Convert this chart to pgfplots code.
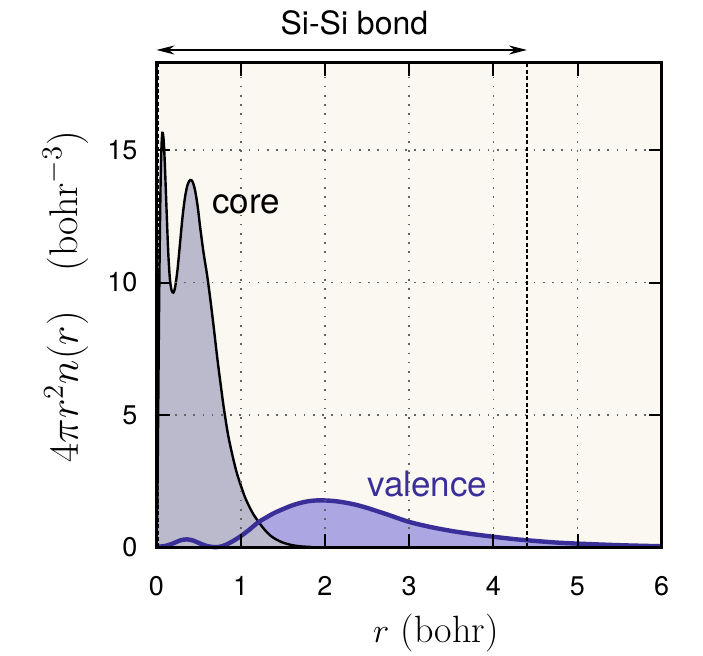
\documentclass[border=0pt]{standalone}
\usepackage{fontspec}
\usepackage{pgfplots}
\pgfplotsset{compat=1.18}
\usetikzlibrary{arrows.meta}
\newfontfamily\helv{TeX Gyre Heros}
\definecolor{bgc}{RGB}{250,248,240}
\definecolor{corefill}{RGB}{186,186,204}
\definecolor{valfill}{RGB}{172,166,226}
\definecolor{valline}{RGB}{58,46,152}
\definecolor{gridc}{RGB}{100,100,100}
\begin{document}
\begin{tikzpicture}
\begin{axis}[
 scale only axis, width=252.6pt, height=242.3pt,
 xmin=0,xmax=6,ymin=0,ymax=18.3,
 xtick={0,...,6}, ytick={0,5,10,15},
 tick align=inside, major tick length=6.5pt,
 tick style={line width=1pt, black},
 axis line style={line width=1.3pt},
 axis background/.style={fill=bgc},
 grid=major, major grid style={gridc, line width=0.8pt, dash pattern=on 0.8pt off 3.8pt},
 axis on top,
 clip=false,
 /pgf/number format/assume math mode=true,
 ticklabel style={font=\helv\fontsize{13.5}{16}\selectfont},
 xticklabel style={yshift=-11pt},
 yticklabel style={xshift=-6pt},
 xlabel={$r$ (bohr)}, ylabel={$4\pi r^2 n(r) \quad (\mathrm{bohr}^{-3})$},
 xlabel style={font=\fontsize{19}{22}\selectfont, at={(axis description cs:0.553,0)}, anchor=base, yshift=-47.5pt},
 ylabel style={font=\fontsize{20}{23}\selectfont, at={(axis description cs:-0.1554,0.5175)}, anchor=base},
]
\coordinate (SW) at (rel axis cs:0,0);
\coordinate (NE) at (rel axis cs:1,1);
\addplot[draw=none, fill=valfill, smooth] coordinates {
(0,0.02) (0.1,0.05) (0.2,0.15) (0.28,0.26) (0.36,0.30) (0.44,0.25) (0.52,0.14) (0.6,0.05) (0.68,0.01) (0.75,0.02) (0.82,0.09) (0.9,0.22) (1.0,0.42) (1.1,0.66) (1.21,0.95) (1.3,1.12) (1.4,1.3) (1.5,1.44) (1.6,1.57) (1.7,1.67) (1.8,1.74) (1.9,1.77) (2.0,1.77) (2.1,1.75) (2.2,1.71) (2.35,1.62) (2.5,1.49) (2.75,1.23) (3.0,0.96) (3.25,0.77) (3.5,0.62) (3.75,0.5) (4.0,0.4) (4.25,0.31) (4.5,0.24) (4.75,0.18) (5.0,0.14) (5.5,0.08) (6.0,0.04)
} \closedcycle;
\addplot[draw=none, fill=corefill, smooth] coordinates {
(0,0) (0.01,1.7) (0.02,5.1) (0.03,8.8) (0.04,11.8) (0.05,14.0) (0.06,15.2) (0.07,15.65) (0.08,15.55) (0.09,15.1) (0.10,14.4) (0.12,12.7) (0.14,11.1) (0.16,10.1) (0.18,9.7) (0.20,9.62) (0.22,9.8) (0.25,10.5) (0.28,11.5) (0.31,12.5) (0.34,13.25) (0.37,13.7) (0.40,13.87) (0.43,13.8) (0.46,13.45) (0.49,12.85) (0.52,12.05) (0.56,11.1) (0.60,10.3) (0.64,9.35) (0.68,8.3) (0.72,7.2) (0.76,6.2) (0.80,5.25) (0.85,4.25) (0.90,3.5) (0.95,2.85) (1.0,2.35) (1.05,1.9) (1.10,1.55) (1.15,1.25) (1.21,0.97) (1.28,0.68) (1.35,0.45) (1.42,0.3) (1.5,0.18) (1.6,0.09) (1.7,0.04) (1.85,0.01) (2.0,0) (6,0)
} \closedcycle;
\addplot[black, line width=1.2pt, smooth] coordinates {
(0,0) (0.01,1.7) (0.02,5.1) (0.03,8.8) (0.04,11.8) (0.05,14.0) (0.06,15.2) (0.07,15.65) (0.08,15.55) (0.09,15.1) (0.10,14.4) (0.12,12.7) (0.14,11.1) (0.16,10.1) (0.18,9.7) (0.20,9.62) (0.22,9.8) (0.25,10.5) (0.28,11.5) (0.31,12.5) (0.34,13.25) (0.37,13.7) (0.40,13.87) (0.43,13.8) (0.46,13.45) (0.49,12.85) (0.52,12.05) (0.56,11.1) (0.60,10.3) (0.64,9.35) (0.68,8.3) (0.72,7.2) (0.76,6.2) (0.80,5.25) (0.85,4.25) (0.90,3.5) (0.95,2.85) (1.0,2.35) (1.05,1.9) (1.10,1.55) (1.15,1.25) (1.21,0.97) (1.28,0.68) (1.35,0.45) (1.42,0.3) (1.5,0.18) (1.6,0.09) (1.7,0.04) (1.85,0.01) (2.0,0) (6,0)
};
\addplot[valline, line width=2.2pt, smooth] coordinates {
(0,0.02) (0.1,0.05) (0.2,0.15) (0.28,0.26) (0.36,0.30) (0.44,0.25) (0.52,0.14) (0.6,0.05) (0.68,0.01) (0.75,0.02) (0.82,0.09) (0.9,0.22) (1.0,0.42) (1.1,0.66) (1.21,0.95) (1.3,1.12) (1.4,1.3) (1.5,1.44) (1.6,1.57) (1.7,1.67) (1.8,1.74) (1.9,1.77) (2.0,1.77) (2.1,1.75) (2.2,1.71) (2.35,1.62) (2.5,1.49) (2.75,1.23) (3.0,0.96) (3.25,0.77) (3.5,0.62) (3.75,0.5) (4.0,0.4) (4.25,0.31) (4.5,0.24) (4.75,0.18) (5.0,0.14) (5.5,0.08) (6.0,0.04)
};
\addplot[black, line width=1.3pt, dash pattern=on 2pt off 1.2pt] coordinates {(4.40,0) (4.40,18.3)};
\addplot[black, line width=1pt, dash pattern=on 2pt off 1.2pt] coordinates {(0.02,0) (0.02,18.3)};
\addplot[black, line width=0.85pt, {Stealth[length=9pt,width=4.5pt]}-{Stealth[length=9pt,width=4.5pt]}] coordinates {(0,18.78) (4.40,18.78)};
\node[anchor=base, inner sep=0pt, font=\helv\fontsize{16}{19}\selectfont] at (axis cs:2.35,19.35) {Si-Si bond};
\node[anchor=base west, inner sep=0pt, font=\helv\fontsize{17.5}{20}\selectfont] at (axis cs:0.656,12.62) {core};
\node[anchor=base west, inner sep=0pt, text=valline, font=\helv\fontsize{17.5}{20}\selectfont] at (axis cs:2.5,1.91) {valence};
\end{axis}
\pgfresetboundingbox
\path[use as bounding box] ([xshift=-78.25pt,yshift=-53.85pt]SW) rectangle ([xshift=20.65pt,yshift=31.35pt]NE);
\end{tikzpicture}
\end{document}
